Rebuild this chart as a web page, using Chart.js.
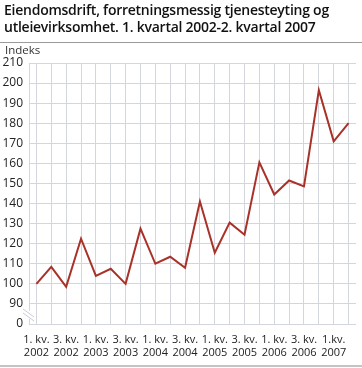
<!DOCTYPE html>
<html>
<head>
<meta charset="utf-8">
<script src="https://cdn.jsdelivr.net/npm/chart.js@4/dist/chart.umd.min.js"></script>
<style>
  html, body { margin: 0; padding: 0; background: #fff; }
  #wrap { position: relative; width: 362px; height: 368px; overflow: hidden; }
  #title { position: absolute; left: 4px; top: 1px; font-family: "Open Sans", sans-serif; font-weight: 600; font-size: 14px; line-height: 17px; color: #111; letter-spacing: -0.25px; }
  #sep { position: absolute; left: 0; top: 42px; width: 362px; height: 1px; background: #9a9a9a; }
  #unit { position: absolute; left: 5px; top: 42px; font-family: "Open Sans", sans-serif; font-size: 11.5px; color: #333; }
  #bottom { position: absolute; left: 0; top: 365px; width: 362px; height: 2px; background: #c4c4c4; }
  canvas { position: absolute; left: 0; top: 0; }
</style>
</head>
<body>
<div id="wrap">
  <canvas id="c" width="362" height="368"></canvas>
  <div id="title">Eiendomsdrift, forretningsmessig tjenesteyting og<br>utleievirksomhet. 1. kvartal 2002-2. kvartal 2007</div>
  <div id="sep"></div>
  <div id="unit">Indeks</div>
  <div id="bottom"></div>
</div>
<script>
const quarters = ["1. kv.","2. kv.","3. kv.","4. kv.","1. kv.","2. kv.","3. kv.","4. kv.","1. kv.","2. kv.","3. kv.","4. kv.","1. kv.","2. kv.","3. kv.","4. kv.","1. kv.","2. kv.","3. kv.","4. kv.","1.kv.","2. kv."];
const years = ["2002","2002","2002","2002","2003","2003","2003","2003","2004","2004","2004","2004","2005","2005","2005","2005","2006","2006","2006","2006","2007","2007"];
const indexValues = [100, 108.5, 98.5, 122.5, 104, 107.5, 100, 127.5, 110, 113.5, 108, 141, 115.5, 130.5, 124.5, 160.5, 144.5, 151.5, 148.5, 196.5, 171, 180];
const yTickValues = [80, 90, 100, 110, 120, 130, 140, 150, 160, 170, 180, 190, 200, 210];
const yTickLabels = ["0", "90", "100", "110", "120", "130", "140", "150", "160", "170", "180", "190", "200", "210"];

const categories = quarters.map((q, i) => [q, years[i]]);

const breakPlugin = {
  id: 'axisBreak',
  afterDraw(chart) {
    const ctx = chart.ctx;
    const y = chart.scales.y;
    const x0 = chart.chartArea.left;
    const yTop = y.getPixelForValue(90);
    const yBot = y.getPixelForValue(80);
    const mid = (yTop + yBot) / 2;
    ctx.save();
    ctx.fillStyle = '#fff';
    ctx.fillRect(x0 - 2, mid - 3, 4, 8);
    ctx.strokeStyle = '#c8ccd4';
    ctx.lineWidth = 1;
    ctx.beginPath();
    ctx.moveTo(x0 - 6, mid - 5); ctx.lineTo(x0 + 5, mid + 3);
    ctx.moveTo(x0 - 6, mid - 1); ctx.lineTo(x0 + 5, mid + 7);
    ctx.stroke();
    ctx.restore();
  }
};

new Chart(document.getElementById('c'), {
  type: 'line',
  data: {
    labels: categories,
    datasets: [{
      data: indexValues,
      borderColor: '#a83229',
      borderWidth: 2,
      pointRadius: 0,
      tension: 0,
      fill: false
    }]
  },
  options: {
    responsive: false,
    animation: false,
    layout: { padding: { top: 63, right: 6, left: 0, bottom: 0 } },
    plugins: { legend: { display: false }, tooltip: { enabled: false } },
    scales: {
      x: {
        type: 'category',
        offset: true,
        grid: { offset: false, color: '#d3d6dd', lineWidth: 1, drawTicks: false },
        border: { display: false },
        ticks: {
          autoSkip: false,
          maxRotation: 0,
          padding: 10,
          color: '#222',
          font: { family: 'Open Sans', size: 11, lineHeight: 1.15 },
          callback: function(v, i) { return i % 2 === 0 ? categories[i] : ''; }
        },
        afterFit(s) { s.height = 44; }
      },
      y: {
        min: 80,
        max: 210,
        afterBuildTicks(s) { s.ticks = yTickValues.map(v => ({ value: v })); },
        grid: { color: '#d3d6dd', lineWidth: 1, drawTicks: false },
        border: { display: true, color: '#d3d6dd' },
        ticks: {
          padding: 6,
          color: '#222',
          font: { family: 'Open Sans', size: 12 },
          callback: function(v) { const k = yTickValues.indexOf(v); return k >= 0 ? yTickLabels[k] : ''; }
        },
        afterFit(s) { s.width = 29; }
      }
    }
  },
  plugins: [breakPlugin]
});
</script>
</body>
</html>
